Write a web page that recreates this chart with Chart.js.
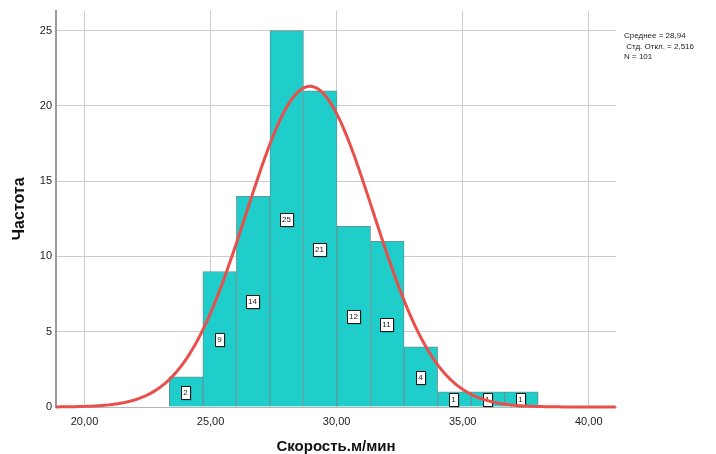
<!DOCTYPE html>
<html>
<head>
<meta charset="utf-8">
<script src="https://cdn.jsdelivr.net/npm/chart.js@4/dist/chart.umd.min.js"></script>
<style>
  html, body { margin: 0; padding: 0; background: #ffffff; }
  canvas { display: block; }
</style>
</head>
<body>
<canvas id="hist" width="716" height="454"></canvas>
<script>
// Histogram of speed (m/min) with a fitted normal curve
const binCenters = [24.03, 25.36, 26.69, 28.02, 29.35, 30.68, 32.01, 33.34, 34.67, 36.00, 37.33];
const binCounts  = [2, 9, 14, 25, 21, 12, 11, 4, 1, 1, 1];
const binWidth = 1.33;
const xTickValues = [20, 25, 30, 35, 40];
const yTickValues = [0, 5, 10, 15, 20, 25];
const statMean = 28.94;
const statSd = 2.516;
const statN = 101;
const statLines = ['Среднее = 28,94', ' Стд. Откл. = 2,516', 'N = 101'];
const xTitle = 'Скорость.м/мин';
const yTitle = 'Частота';

const X_MIN = 18.87, X_MAX = 41.08, Y_MAX = 26.33;
const FONT = '"Liberation Sans", Arial, sans-serif';

// Normal density scaled to counts (N * bin width * pdf)
function normalCount(x) {
  const z = (x - statMean) / statSd;
  return statN * binWidth * Math.exp(-0.5 * z * z) / (statSd * Math.sqrt(2 * Math.PI));
}
const curvePoints = [];
for (let x = X_MIN; x <= X_MAX + 1e-9; x += 0.05) {
  curvePoints.push({ x: x, y: normalCount(x) });
}

const barPoints = binCenters.map((c, i) => ({ x: c, y: binCounts[i] }));

// Count boxes in the middle of each bar
const countLabels = {
  id: 'countLabels',
  afterDatasetDraw(chart, args) {
    if (args.index !== 0) return;
    const ctx = chart.ctx;
    const meta = args.meta;
    ctx.save();
    ctx.font = '8px ' + FONT;
    ctx.textAlign = 'center';
    ctx.textBaseline = 'middle';
    meta.data.forEach((el, i) => {
      const txt = String(binCounts[i]);
      const cx = Math.round(el.x) - 1;
      const cy = Math.round((el.y + el.base) / 2);
      const w = txt.length > 1 ? 13 : 9;
      const h = 13;
      const left = Math.round(cx - w / 2) + 0.5;
      const top = Math.round(cy - h / 2) + 0.5;
      ctx.fillStyle = 'rgba(0,0,0,0.25)';
      ctx.fillRect(left + 1, top + 1, w, h);
      ctx.fillStyle = '#ffffff';
      ctx.fillRect(left, top, w, h);
      ctx.strokeStyle = '#1a1a1a';
      ctx.lineWidth = 1;
      ctx.strokeRect(left, top, w, h);
      ctx.fillStyle = '#222222';
      ctx.fillText(txt, cx + 0.5, cy + 1);
    });
    ctx.restore();
  }
};

// Summary statistics at the right of the plot
const statsText = {
  id: 'statsText',
  afterDraw(chart) {
    const ctx = chart.ctx;
    ctx.save();
    ctx.font = '8px ' + FONT;
    ctx.fillStyle = '#222222';
    ctx.textAlign = 'left';
    ctx.textBaseline = 'middle';
    statLines.forEach((t, i) => {
      ctx.fillText(t, 624, 36 + i * 10.5);
    });
    ctx.restore();
  }
};

new Chart(document.getElementById('hist'), {
  type: 'bar',
  data: {
    datasets: [
      {
        type: 'bar',
        data: barPoints,
        backgroundColor: '#1fcdcb',
        borderColor: '#5f9796',
        borderWidth: 1,
        barPercentage: 1,
        categoryPercentage: 1,
        order: 2
      },
      {
        type: 'line',
        data: curvePoints,
        borderColor: '#e9504c',
        borderWidth: 3,
        pointRadius: 0,
        tension: 0,
        fill: false,
        clip: false,
        order: 1
      }
    ]
  },
  options: {
    responsive: false,
    animation: false,
    layout: { padding: { left: 0, right: 100, top: 10, bottom: 0 } },
    plugins: {
      legend: { display: false },
      tooltip: { enabled: false }
    },
    scales: {
      x: {
        type: 'linear',
        min: X_MIN,
        max: X_MAX,
        offset: false,
        afterBuildTicks(scale) { scale.ticks = xTickValues.map(v => ({ value: v })); },
        afterFit(scale) { scale.height = 47; },
        ticks: {
          padding: 8,
          color: '#222222',
          font: { family: FONT, size: 11 },
          maxRotation: 0,
          callback: v => v.toFixed(2).replace('.', ',')
        },
        grid: { color: '#cccccc', lineWidth: 1, drawTicks: false, offset: false },
        border: { color: '#b5b5b5', width: 1 },
        title: {
          display: true,
          text: xTitle,
          color: '#111111',
          font: { family: FONT, size: 15, weight: 'bold', lineHeight: 1 },
          padding: { top: 0, bottom: 0 }
        }
      },
      y: {
        type: 'linear',
        min: 0,
        max: Y_MAX,
        afterBuildTicks(scale) { scale.ticks = yTickValues.map(v => ({ value: v })); },
        afterFit(scale) { scale.width = 56; },
        ticks: {
          padding: 4,
          color: '#222222',
          font: { family: FONT, size: 11 }
        },
        grid: { color: '#cccccc', lineWidth: 1, drawTicks: false },
        border: { color: '#9a9a9a', width: 2 },
        title: {
          display: true,
          text: yTitle,
          color: '#111111',
          font: { family: FONT, size: 16, weight: 'bold' },
          padding: { top: 10, bottom: 0 }
        }
      }
    }
  },
  plugins: [countLabels, statsText]
});
</script>
</body>
</html>
